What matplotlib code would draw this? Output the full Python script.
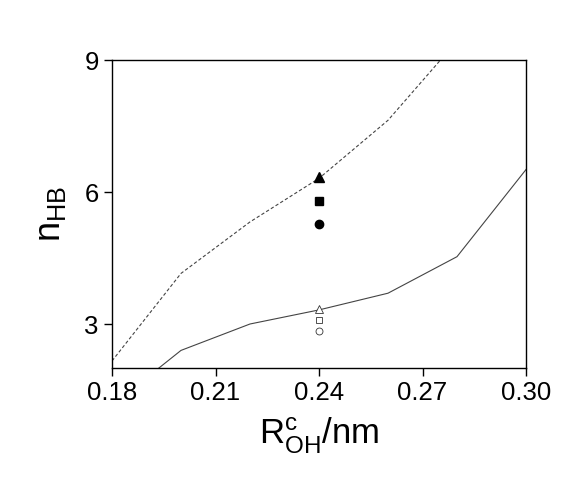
import matplotlib.pyplot as plt

plt.rcParams['font.family'] = ['Liberation Sans', 'DejaVu Sans']
plt.rcParams['mathtext.fontset'] = 'custom'
plt.rcParams['mathtext.rm'] = 'Liberation Sans'
plt.rcParams['mathtext.it'] = 'Liberation Sans'

# solid curve
r_solid = [0.18, 0.20, 0.22, 0.24, 0.26, 0.28, 0.30]
n_solid = [1.15, 2.40, 3.00, 3.32, 3.70, 4.53, 6.51]

# dashed curve
r_dash = [0.18, 0.20, 0.22, 0.24, 0.26, 0.28]
n_dash = [2.16, 4.15, 5.32, 6.31, 7.63, 9.43]

# single points at R = 0.24
r_pt = 0.24
n_filled = {'^': 6.35, 's': 5.80, 'o': 5.27}
n_open = {'^': 3.34, 's': 3.10, 'o': 2.84}

fig = plt.figure(figsize=(5.84, 4.96), dpi=100)
ax = fig.add_axes([112/584, 1 - 368/496, 414/584, 308/496])

ax.plot(r_solid, n_solid, color='#444444', lw=0.8)
ax.plot(r_dash, n_dash, color='#444444', lw=0.8, ls=(0, (3, 2)))

sizes = {'^': 7, 's': 5.5, 'o': 6}
for m, v in n_filled.items():
    ax.plot(r_pt, v, marker=m, color='black', ms=sizes[m], ls='none')
osz = {'^': 6, 's': 4.5, 'o': 5}
for m, v in n_open.items():
    ax.plot(r_pt, v, marker=m, mfc='white', mec='#333333', mew=0.6, ms=osz[m], ls='none')

ax.set_xlim(0.18, 0.30)
ax.set_ylim(2, 9)
ax.set_xticks([0.18, 0.21, 0.24, 0.27, 0.30])
ax.set_xticklabels(['0.18', '0.21', '0.24', '0.27', '0.30'])
ax.set_yticks([3, 6, 9])
ax.tick_params(direction='out', length=6, width=1, labelsize=18.5, top=False, right=False)
for s in ax.spines.values():
    s.set_linewidth(1)

ax.set_xlabel(r'R$^{\rm c}_{\rm OH}$/nm', fontsize=25, labelpad=8)
ax.set_ylabel(r'n$_{\rm HB}$', fontsize=26, labelpad=12)

plt.savefig('out.png', dpi=100)
